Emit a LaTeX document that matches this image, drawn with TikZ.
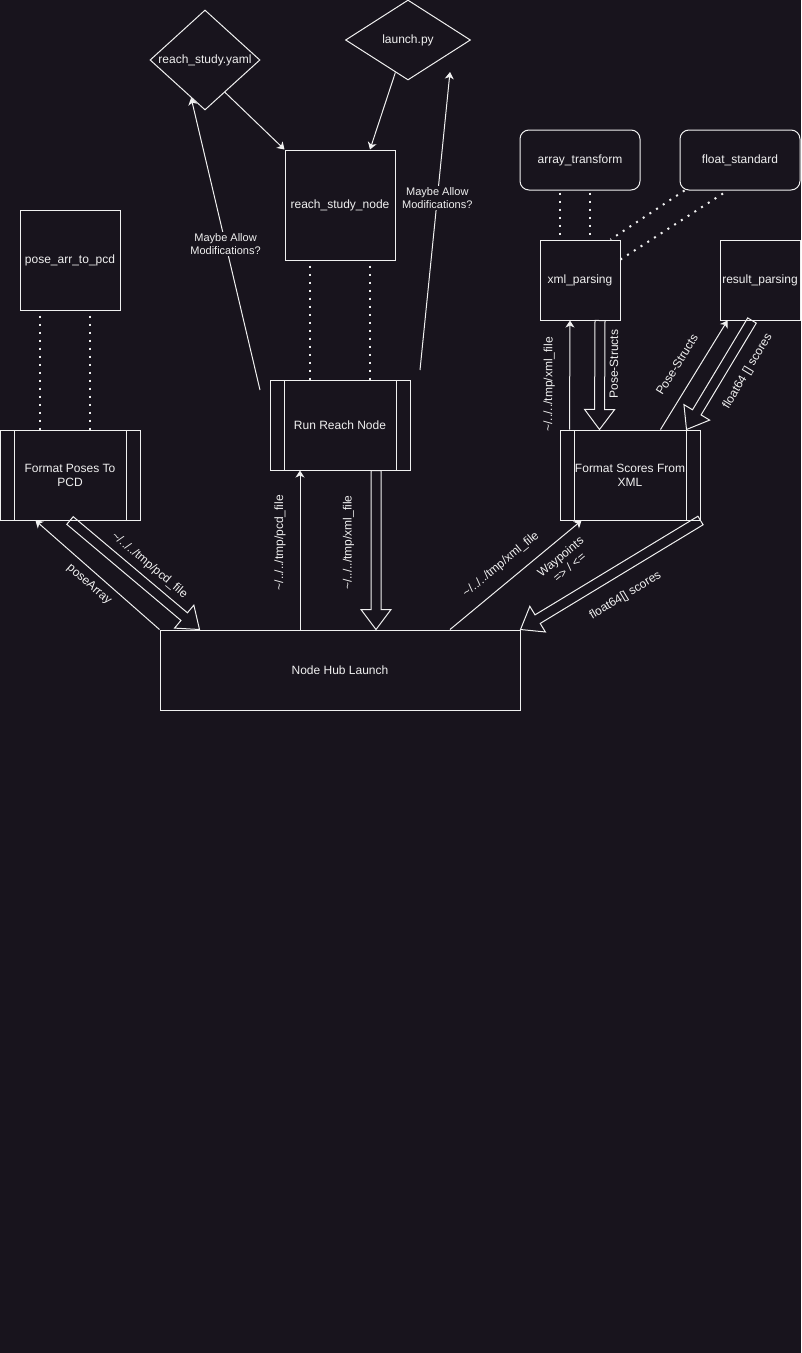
\documentclass[tikz,border=0pt]{standalone}
\usepackage{fontspec}
\setmainfont{Liberation Sans}
\usetikzlibrary{arrows.meta,shapes.geometric,calc}

\definecolor{bg}{RGB}{24,20,29}
\definecolor{ink}{RGB}{240,240,240}

% hollow block arrow from #1 to #2
\newcommand\fatarrow[2]{%
  \coordinate (ha) at (#1);
  \coordinate (hb) at (#2);
  \coordinate (hh) at ($(hb)!15pt!(ha)$);
  \draw[hollow] ($(ha)!3.75pt!90:(hb)$) -- ($(hh)!3.75pt!-90:(ha)$)
    -- ($(hh)!11.25pt!-90:(ha)$) -- (hb) -- ($(hh)!11.25pt!90:(ha)$)
    -- ($(hh)!3.75pt!90:(ha)$) -- ($(ha)!3.75pt!-90:(hb)$) -- cycle;
}

\begin{document}
\begin{tikzpicture}[
    x=0.75pt, y=-0.75pt, line width=0.75pt,
    >={Stealth[length=5.25pt,width=6.75pt,inset=1.5pt]}, % classic tips
    box/.style={draw=ink, inner sep=0pt, align=center, text=ink,
        font=\fontsize{9}{10.5}\selectfont},
    diam/.style={box, diamond, aspect=#1},
    rbox/.style={box, rounded corners=6.75pt, minimum width=90pt, minimum height=45pt},
    process/.style={box, minimum width=105pt, minimum height=67.5pt,
        path picture={
          \draw[ink] ([xshift=10.5pt]path picture bounding box.north west)
            -- ([xshift=10.5pt]path picture bounding box.south west);
          \draw[ink] ([xshift=-10.5pt]path picture bounding box.north east)
            -- ([xshift=-10.5pt]path picture bounding box.south east);}},
    flow/.style={->, draw=ink},
    dots/.style={draw=ink, line width=1.5pt, dash pattern=on 1.5pt off 4.5pt},
    hollow/.style={draw=ink, line join=miter},
    elabel/.style={text=ink, inner sep=0pt, sloped, align=center,
        font=\fontsize{9}{10.5}\selectfont},
    note/.style={text=ink, fill=bg, inner sep=1pt, align=center,
        font=\fontsize{8.25}{9.5}\selectfont}
]

    % Background and page size
    \fill[bg] (0,0) rectangle (801,1353);
    \useasboundingbox (0,0) rectangle (801,1353);

    % Config files
    \node[diam=1.1, minimum width=82.5pt, minimum height=75pt] (yaml) at (205,60) {reach\_study.yaml};
    \node[diam=1.5625, minimum width=93.75pt, minimum height=60pt] (launch) at (408,40) {launch.py};

    % Packages
    \node[box, minimum width=82.5pt, minimum height=82.5pt] (rsnode) at (340,205) {reach\_study\_node};
    \node[box, minimum width=75pt, minimum height=75pt] (par) at (70,260) {pose\_arr\_to\_pcd};
    \node[rbox] (arrt) at (580,160) {array\_transform};
    \node[rbox] (fstd) at (740,160) {float\_standard};
    \node[box, minimum width=60pt, minimum height=60pt] (xmlp) at (580,280) {xml\_parsing};
    \node[box, minimum width=60pt, minimum height=60pt] (resp) at (760,280) {result\_parsing};

    % Processes
    \node[process] (fpcd) at (70,475) {Format Poses To\\PCD};
    \node[process] (rrn) at (340,425) {Run Reach Node};
    \node[process] (fsx) at (630,475) {Format Scores From\\XML};
    \node[box, minimum width=270pt, minimum height=60pt] (hub) at (340,670) {Node Hub Launch};

    % Config into the node
    \draw[flow] ($(yaml.east)!0.64!(yaml.south)$) -- (rsnode.north west);
    \draw[flow] ($(launch.west)!0.8!(launch.south)$) -- ($(rsnode.north)+(30,0)$);

    % Maybe allow modifications
    \coordinate (lfree) at (260,390);
    \coordinate (rfree) at (420,370);
    \coordinate (rtip) at (450,72);
    \draw[flow] (lfree) -- node[note] {Maybe Allow\\Modifications?} ($(yaml.west)!0.75!(yaml.south)$);
    \draw[flow] (rfree) -- node[note, pos=0.577] {Maybe Allow\\Modifications?} (rtip);

    % Dotted links
    \draw[dots] ($(par.south)+(-30,5)$) -- ($(fpcd.north)+(-30,0)$);
    \draw[dots] ($(par.south)+(20,5)$) -- ($(fpcd.north)+(20,0)$);
    \draw[dots] ($(rsnode.south)+(-30,5)$) -- ($(rrn.north)+(-30,0)$);
    \draw[dots] ($(rsnode.south)+(30,5)$) -- ($(rrn.north)+(30,0)$);
    \draw[dots] ($(arrt.south)+(-20,2)$) -- ($(xmlp.north)+(-20,0)$);
    \draw[dots] ($(arrt.south)+(10,2)$) -- ($(xmlp.north)+(10,0)$);
    \draw[dots] ($(fstd.south west)+(5,0)$) -- ($(xmlp.north east)+(-10,0)$);
    \draw[dots] ($(fstd.south)+(-17,3)$) -- ($(xmlp.north east)+(0,20)$);

    % Hub and Format Poses
    \draw[flow] (hub.north west) -- node[elabel, below=5.1pt] {poseArray} ($(fpcd.south west)+(36,0)$);
    \fatarrow{fpcd.south}{$(hub.north west)+(40,0)$}
    \path (fpcd.south) -- node[elabel, pos=0.53, above=8pt] {\textasciitilde/../../tmp/pcd\_file} ($(hub.north west)+(40,0)$);

    % Hub and Run Reach Node
    \draw[flow] ($(hub.north)+(-40,0)$) -- node[elabel, pos=0.547, above=10.4pt] {\textasciitilde/../../tmp/pcd\_file} ($(rrn.south)+(-40,0)$);
    \fatarrow{$(rrn.south)+(36,0)$}{$(hub.north)+(36,0)$}
    \path ($(hub.north)+(36,0)$) -- node[elabel, pos=0.547, above=16pt] {\textasciitilde/../../tmp/xml\_file} ($(rrn.south)+(36,0)$);

    % Hub and Format Scores
    \draw[flow] ($(hub.north)+(110,0)$) -- node[elabel, pos=0.473, above=8.5pt] {\textasciitilde/../../tmp/xml\_file}
        node[elabel, pos=0.77, below=7pt] {Waypoints\\=> / <=} ($(fsx.south west)+(22,0)$);
    \fatarrow{fsx.south east}{hub.north east}
    \path (hub.north east) -- node[elabel, pos=0.51, below=14.5pt] {float64[] scores} (fsx.south east);

    % Format Scores and parsers
    \draw[flow] ($(fsx.north west)+(10,0)$) -- node[elabel, pos=0.414, above=10.8pt] {\textasciitilde/../../tmp/xml\_file} ($(xmlp.south)+(-10,0)$);
    \fatarrow{$(xmlp.south)+(20,0)$}{$(fsx.north west)+(40,0)$}
    \path ($(fsx.north west)+(40,0)$) -- node[elabel, pos=0.6, below=7pt] {Pose-Structs} ($(xmlp.south)+(20,0)$);
    \draw[flow] ($(fsx.north east)+(-40,0)$) -- node[elabel, above=11.5pt] {Pose-Structs} ($(resp.south west)+(8,0)$);
    \fatarrow{$(resp.south)+(-8,0)$}{$(fsx.north east)+(-14,0)$}
    \path ($(fsx.north east)+(-14,0)$) -- node[elabel, pos=0.64, below=12.3pt] {float64 [] scores} ($(resp.south)+(-8,0)$);

\end{tikzpicture}
\end{document}
